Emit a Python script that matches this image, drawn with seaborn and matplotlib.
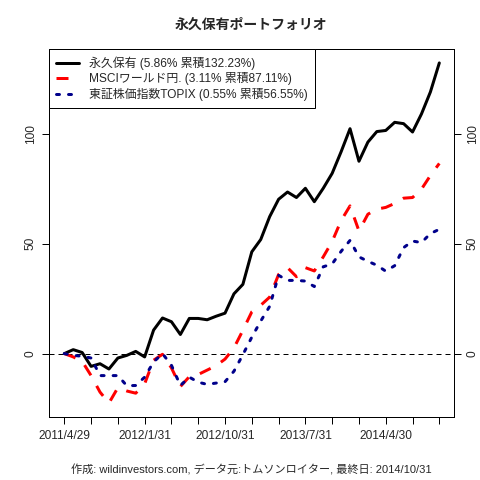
import matplotlib
matplotlib.use("Agg")
import matplotlib.pyplot as plt
import seaborn as sns
import pandas as pd

# ---- data (monthly, 2011/4 .. 2014/10) ----
month_index = list(range(43))
eternal = [0, 1.8, 0.5, -5.8, -4.6, -7, -2, -0.8, 1, -1.5,
           10.7, 16.2, 14.5, 8.7, 16, 16, 15.4, 17, 18.4, 27.2,
           31.5, 46.3, 51.9, 62.3, 70.2, 73.5, 71, 75.2, 69.1, 75.2,
           82, 91.8, 102.3, 87.5, 96.2, 101, 101.5, 105.2, 104.6, 100.8,
           109, 119, 132.23]
msci = [0, -1.5, -3.5, -10, -17.5, -22.5, -15.5, -17, -18, -13.7,
        -3, -0.3, -6.5, -15, -10.5, -9.5, -7.5, -5.5, -2.5, 2.6,
        10.6, 19, 22, 25.7, 36, 39.1, 35, 39.1, 37.6, 44,
        51, 60.5, 67.2, 55.8, 63.4, 65.7, 66.5, 68.3, 70.7, 71,
        74.8, 81, 86.5]
topix = [0, -0.8, -1.2, -2, -10, -10, -10, -14.6, -14.5, -10.7,
         -3.8, 0, -5.3, -14.5, -10.7, -13, -14, -13.4, -12.8, -8,
         -0.5, 7.5, 14.8, 21.5, 35.6, 33.3, 33.3, 33, 30.5, 39.5,
         40.8, 46.5, 51.5, 44, 42, 40.2, 37.5, 40, 48.2, 51.2,
         50.5, 54.6, 56.55]

series_names = ["永久保有 (5.86% 累積132.23%)",
                "MSCIワールド円. (3.11% 累積87.11%)",
                "東証株価指数TOPIX (0.55% 累積56.55%)"]
tick_positions = list(range(0, 43, 3))
tick_labels = ["2011/4/29", "", "", "2012/1/31", "", "", "2012/10/31", "", "",
               "2013/7/31", "", "", "2014/4/30", "", ""]
title = "永久保有ポートフォリオ"
caption = "作成: wildinvestors.com, データ元:トムソンロイター, 最終日: 2014/10/31"
y_ticks = [0, 50, 100]

sns.set_style("white")
plt.rcParams["font.family"] = ["Liberation Sans", "Noto Sans CJK JP", "DejaVu Sans"]

df = pd.DataFrame({"m": month_index, "a": eternal, "b": msci, "c": topix})

fig = plt.figure(figsize=(4.8, 4.8), dpi=100)
ax = fig.add_axes([0.1027, 0.1319, 0.8438, 0.7654])

px = 0.72  # one pixel in points
ax.axhline(0, color="black", lw=1 * px, linestyle=(0, (5, 4)), zorder=1)

sns.lineplot(data=df, x="m", y="a", color="black", linewidth=3 * px, ax=ax,
             label=series_names[0], legend=False)
sns.lineplot(data=df, x="m", y="b", color="#ff0000", linewidth=3 * px, ax=ax,
             label=series_names[1], legend=False)
sns.lineplot(data=df, x="m", y="c", color="#00008b", linewidth=3 * px, ax=ax,
             label=series_names[2], legend=False)
lines = ax.get_lines()[1:]
lines[0].set_solid_capstyle("round")
lines[1].set_linestyle((0, (4, 4)))
lines[1].set_dash_capstyle("butt")
lines[2].set_linestyle((0, (1, 3)))
lines[2].set_dash_capstyle("round")

allv = eternal + msci + topix
lo, hi = min(allv), max(allv)
pad = (hi - lo) * 0.04
ax.set_ylim(lo - pad, hi + pad)
ax.set_xlim(-42 * 0.04, 42 * 1.04)

ax.set_xticks(tick_positions)
ax.set_xticklabels(tick_labels)
ax.tick_params(axis="x", direction="out", length=7 * px, width=1 * px,
               color="black", bottom=True, labelsize=8.6, pad=4.5)

ax.set_yticks(y_ticks)
ax.set_yticklabels([str(v) for v in y_ticks])
ax.tick_params(axis="y", direction="out", length=7 * px, width=1 * px,
               color="black", left=True, right=True, labelleft=True,
               labelright=True, labelsize=8.6, pad=4, labelrotation=90)
for lab in ax.yaxis.get_ticklabels() + ax.yaxis.get_ticklabels(which="both"):
    lab.set_va("center")

ax.set_xlabel("")
ax.set_ylabel("")
for s in ax.spines.values():
    s.set_color("black")
    s.set_linewidth(1 * px)
    s.set_visible(True)
ax.grid(False)

leg = ax.legend(handles=lines, labels=series_names, loc="upper left",
                bbox_to_anchor=(0, 1), borderaxespad=0, fontsize=8.6,
                frameon=True, fancybox=False, shadow=False,
                handlelength=1.9, handletextpad=0.85, labelspacing=0.22,
                borderpad=0.58)
fr = leg.get_frame()
fr.set_edgecolor("black")
fr.set_linewidth(1 * px)
fr.set_facecolor("white")
fr.set_alpha(1)

fig.text(0.522, 0.948, title, ha="center", va="center", fontsize=10,
         fontweight="bold")
fig.text(0.523, 0.021, caption, ha="center", va="center", fontsize=8.0)

fig.savefig("out.png", dpi=100)
